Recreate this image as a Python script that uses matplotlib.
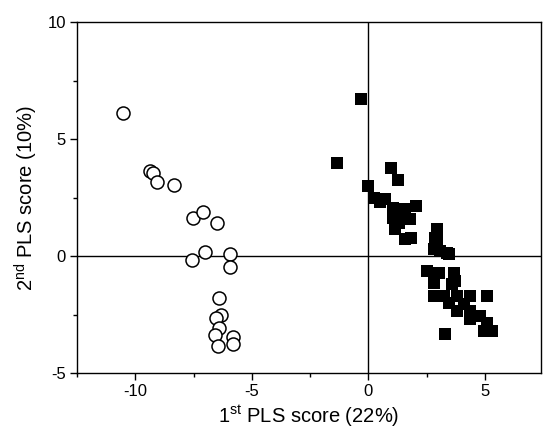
import matplotlib
matplotlib.use("Agg")
import matplotlib.pyplot as plt
from matplotlib.ticker import MultipleLocator

plt.rcParams['font.family'] = ['Liberation Sans', 'DejaVu Sans']
plt.rcParams['axes.unicode_minus'] = False

# group 1 - open circles
circ_x = [-10.52, -9.36, -9.22, -9.05, -8.36, -7.52, -7.10, -6.51, -7.55, -7.01,
          -5.92, -5.95, -6.41, -6.34, -6.55, -6.41, -6.58, -6.44, -5.82, -5.82]
circ_y = [6.10, 3.63, 3.53, 3.18, 3.03, 1.61, 1.89, 1.42, -0.18, 0.17,
          0.07, -0.46, -1.81, -2.52, -2.66, -3.09, -3.39, -3.85, -3.45, -3.75]

# group 2 - filled squares
sq_x = [-0.34, -1.34, 0.97, 1.26, -0.03, 0.23, 0.73, 2.06, 1.04, 1.58,
        1.04, 1.80, 1.30, 1.16, 1.84, 1.56, 2.94, 2.87, 2.87, 3.08,
        3.44, 2.94, 2.80, 3.37, 2.51, 3.01, 3.65, 2.80, 3.58, 2.80,
        3.44, 3.80, 4.37, 5.08, 3.80, 4.37, 4.37, 4.80, 5.08, 5.30,
        4.94, 3.30, 4.08, 3.23, 3.73, 0.50, 1.40]
sq_y = [6.72, 3.99, 3.75, 3.26, 2.98, 2.49, 2.42, 2.14, 2.07, 2.00,
        1.64, 1.57, 1.42, 1.14, 0.78, 0.71, 1.14, 0.76, 0.43, 0.21,
        0.07, 0.64, 0.29, 0.11, -0.64, -0.71, -0.71, -1.14, -1.21, -1.71,
        -2.00, -1.71, -1.71, -1.71, -2.35, -2.35, -2.71, -2.56, -2.85, -3.21,
        -3.21, -3.35, -2.06, -1.71, -1.07, 2.30, 1.80]

fig = plt.figure(figsize=(5.43, 4.41), dpi=100)
ax = fig.add_axes([0.1418, 0.1542, 0.8545, 0.7958])

ax.axhline(0, color='black', lw=1, zorder=1)
ax.axvline(0, color='black', lw=1, zorder=1)

ax.scatter(circ_x, circ_y, s=13**2 * 0.52, marker='o', facecolors='white',
           edgecolors='black', linewidths=1.1, zorder=3)
ax.scatter(sq_x, sq_y, s=9.3**2, marker='s', color='black', linewidths=0, zorder=3)

ax.set_xlim(-12.5, 7.4)
ax.set_ylim(-5, 10)
ax.xaxis.set_major_locator(MultipleLocator(5))
ax.xaxis.set_minor_locator(MultipleLocator(2.5))
ax.yaxis.set_major_locator(MultipleLocator(5))
ax.yaxis.set_minor_locator(MultipleLocator(2.5))
ax.tick_params(which='both', direction='out', top=False, right=False, labelsize=12)
ax.tick_params(which='major', length=5, width=1, pad=3)
ax.tick_params(which='minor', length=3, width=1)
for sp in ax.spines.values():
    sp.set_linewidth(1)

ax.set_xlabel('1$^{\\mathregular{st}}$ PLS score (22%)', fontsize=14.5, labelpad=3)
ax.set_ylabel('2$^{\\mathregular{nd}}$ PLS score (10%)', fontsize=14.5, labelpad=5)

fig.savefig('out.png', dpi=100)
